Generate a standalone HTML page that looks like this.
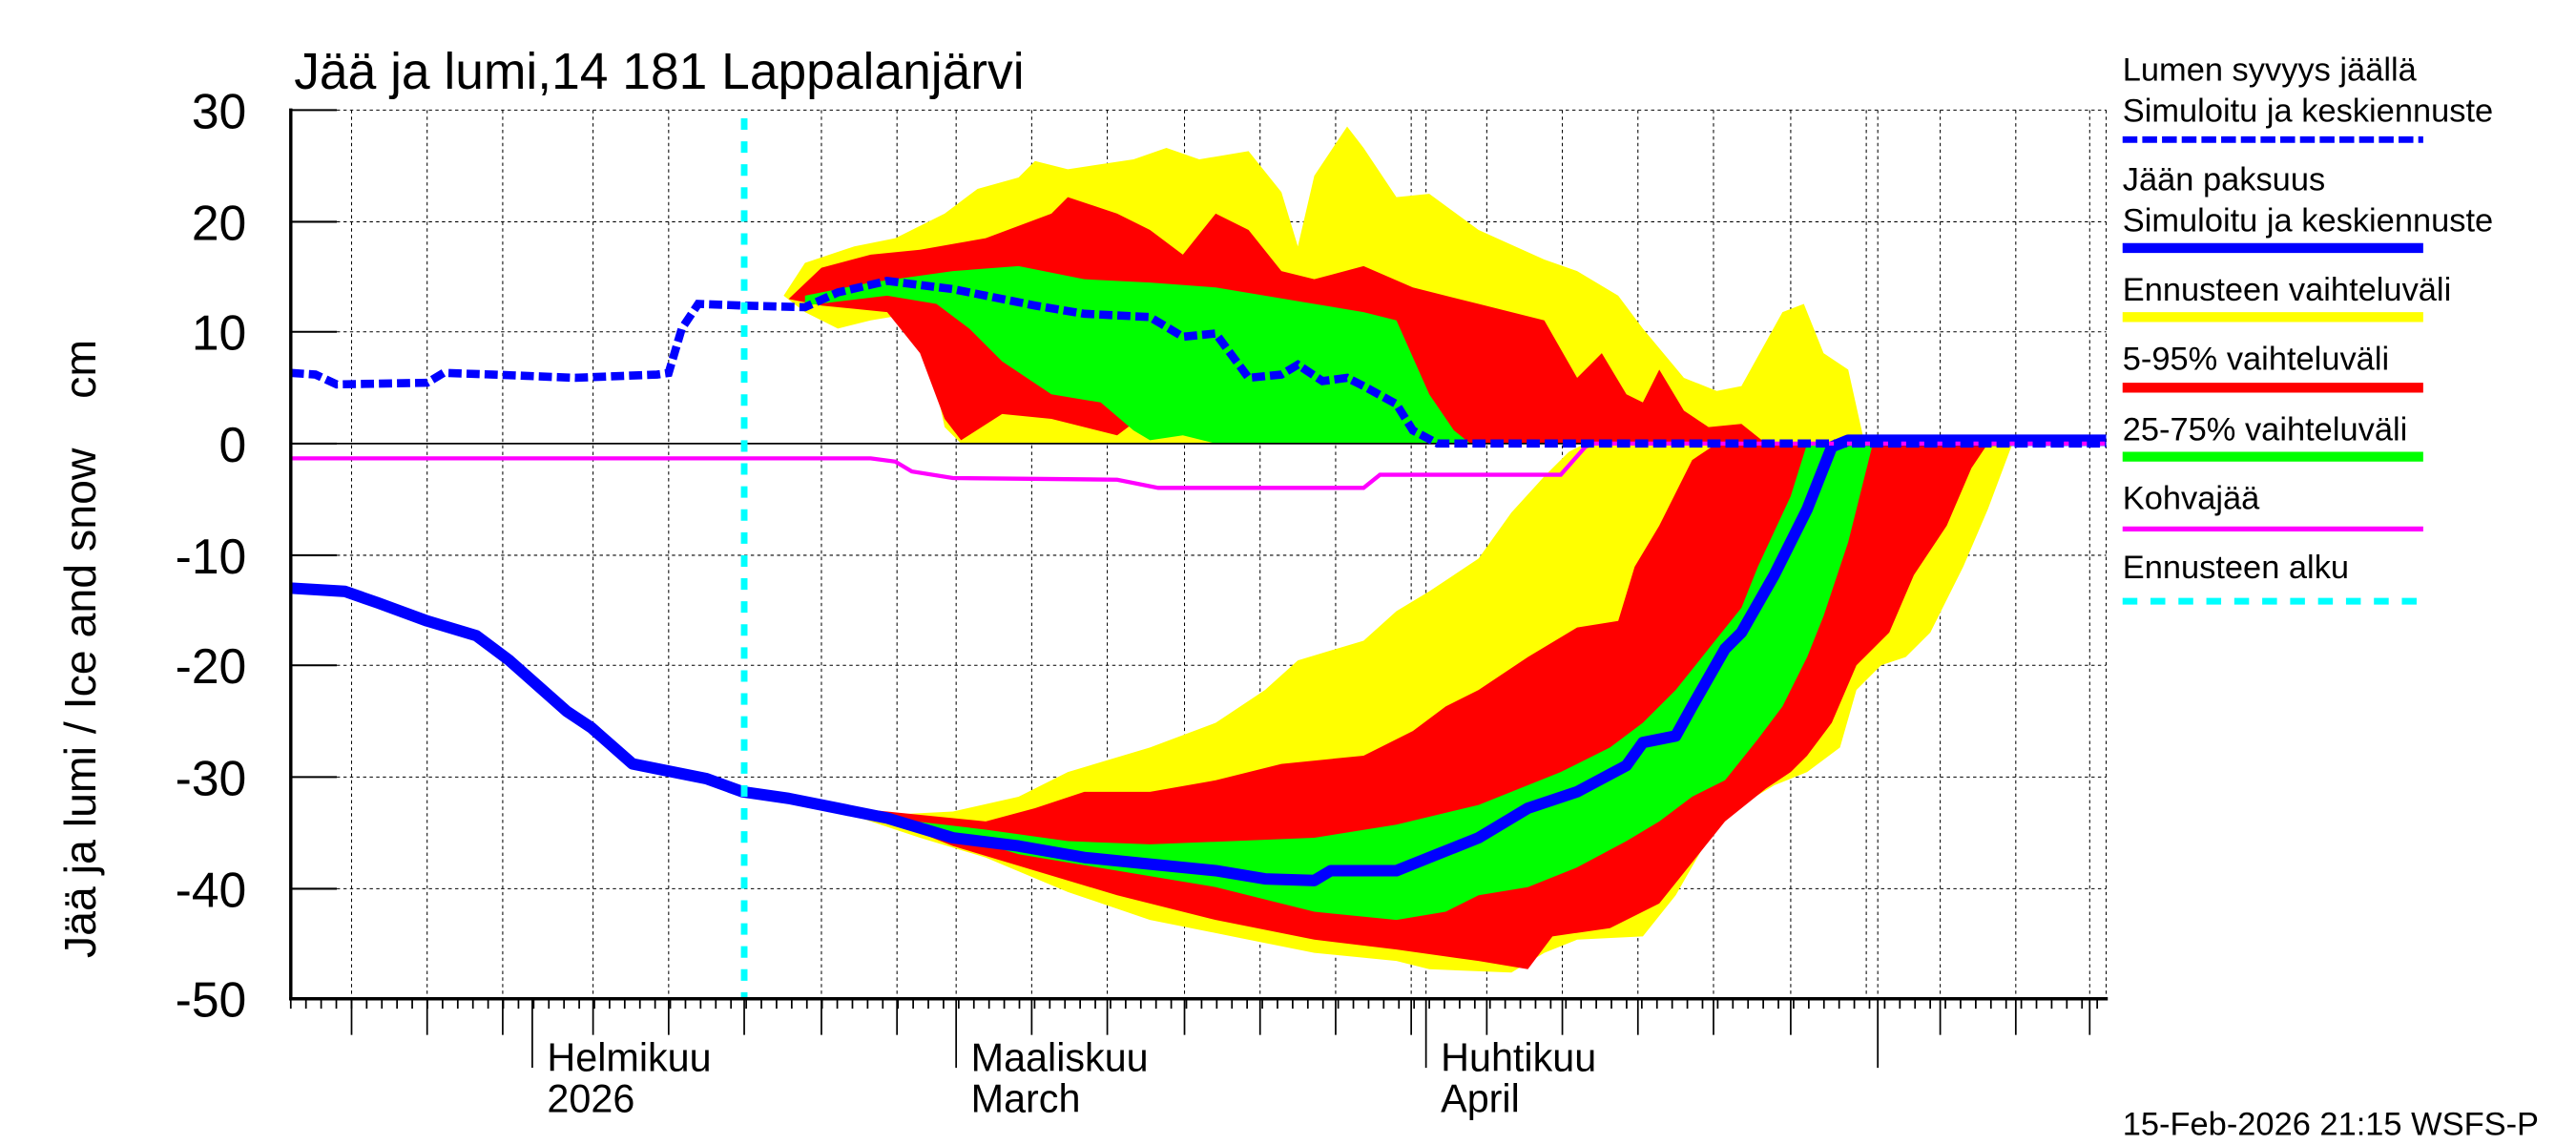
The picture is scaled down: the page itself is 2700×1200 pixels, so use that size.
<!DOCTYPE html>
<html><head><meta charset="utf-8"><style>html,body{margin:0;padding:0;background:#fff}svg{display:block}</style></head><body>
<svg width="2700" height="1200" viewBox="0 0 1568 697" preserveAspectRatio="none" xmlns="http://www.w3.org/2000/svg" font-family="Liberation Sans, sans-serif">
<rect width="1568" height="697" fill="#fff"/>
<g stroke="#000" stroke-width="0.6" stroke-dasharray="2,2">
<line x1="214" y1="67" x2="214" y2="608"/><line x1="260" y1="67" x2="260" y2="608"/><line x1="306" y1="67" x2="306" y2="608"/><line x1="361" y1="67" x2="361" y2="608"/><line x1="407" y1="67" x2="407" y2="608"/><line x1="500" y1="67" x2="500" y2="608"/><line x1="546" y1="67" x2="546" y2="608"/><line x1="582" y1="67" x2="582" y2="608"/><line x1="628" y1="67" x2="628" y2="608"/><line x1="674" y1="67" x2="674" y2="608"/><line x1="721" y1="67" x2="721" y2="608"/><line x1="767" y1="67" x2="767" y2="608"/><line x1="813" y1="67" x2="813" y2="608"/><line x1="859" y1="67" x2="859" y2="608"/><line x1="868" y1="67" x2="868" y2="608"/><line x1="905" y1="67" x2="905" y2="608"/><line x1="951" y1="67" x2="951" y2="608"/><line x1="997" y1="67" x2="997" y2="608"/><line x1="1043" y1="67" x2="1043" y2="608"/><line x1="1090" y1="67" x2="1090" y2="608"/><line x1="1136" y1="67" x2="1136" y2="608"/><line x1="1143" y1="67" x2="1143" y2="608"/><line x1="1181" y1="67" x2="1181" y2="608"/><line x1="1227" y1="67" x2="1227" y2="608"/><line x1="1272" y1="67" x2="1272" y2="608"/>
<line x1="177" y1="67" x2="1282" y2="67"/><line x1="177" y1="135" x2="1282" y2="135"/><line x1="177" y1="202" x2="1282" y2="202"/><line x1="177" y1="338" x2="1282" y2="338"/><line x1="177" y1="405" x2="1282" y2="405"/><line x1="177" y1="473" x2="1282" y2="473"/><line x1="177" y1="541" x2="1282" y2="541"/>
<line x1="1282" y1="67" x2="1282" y2="608"/>
</g>
<polygon fill="#ffff00" points="477,180 490,160 520,150 545,145 575,130 595,115 620,108 630,98 650,103 690,97 710,90 730,97 760,92 780,117 790,150 800,107 820,77 830,90 850,120 870,118 900,140 940,158 960,165 985,180 1000,200 1025,230 1045,238 1060,235 1085,190 1098,185 1110,215 1125,225 1135,270 585,270 575,260 560,190 530,195 510,200 490,190"/>
<polygon fill="#ff0000" points="480,182 500,163 530,155 560,152 600,145 640,130 650,120 680,130 700,140 720,155 740,130 760,140 780,165 800,170 830,162 860,175 900,185 940,195 960,230 975,215 990,240 1000,245 1010,225 1025,250 1040,260 1060,258 1075,270 780,270 750,260 700,250 680,265 640,255 610,252 585,268 575,255 560,215 540,190 500,186"/>
<polygon fill="#00ff00" points="490,180 530,172 580,165 620,162 660,170 700,172 740,175 770,180 800,185 830,190 850,195 870,240 885,262 895,270 740,270 720,265 700,268 690,262 670,245 640,240 610,220 590,200 570,185 540,180 490,186"/>
<polygon fill="#ffff00" points="500,488 540,496 580,494 620,485 650,470 700,455 740,440 770,420 790,402 830,390 850,372 870,360 900,340 920,312 940,290 955,275 965,270 1225,270 1210,310 1195,345 1175,385 1160,400 1145,405 1130,420 1120,455 1100,470 1080,478 1060,490 1040,510 1020,545 1000,570 960,572 940,580 920,592 870,590 850,585 800,580 750,570 700,560 650,543 600,522 560,510 500,490"/>
<polygon fill="#ff0000" points="520,492 560,496 600,500 630,492 660,482 700,482 740,475 780,465 830,460 860,445 880,430 900,420 930,400 960,382 985,378 995,345 1010,320 1030,280 1045,270 1210,270 1200,285 1185,320 1165,350 1150,385 1130,405 1115,440 1100,460 1090,470 1075,480 1050,500 1030,525 1010,550 980,565 945,570 930,590 900,585 850,578 800,572 740,560 680,545 630,530 580,515 530,495"/>
<polygon fill="#00ff00" points="540,498 600,505 650,512 700,514 750,512 800,510 850,502 900,490 950,470 980,455 1000,440 1020,420 1040,395 1060,370 1070,345 1090,302 1100,270 1140,270 1135,290 1125,330 1110,375 1100,400 1085,430 1070,450 1050,475 1030,485 1010,500 990,512 960,528 930,540 900,545 880,555 850,560 800,555 740,540 680,530 620,520 560,502"/>
<line x1="177" y1="270" x2="1282" y2="270" stroke="#000" stroke-width="1"/>
<polyline fill="none" stroke="#0000ff" stroke-width="7" stroke-linejoin="round" points="177,358 210,360 230,367 260,378 290,387 310,402 345,433 360,443 385,465 410,470 430,474 452,482 480,486 510,492 540,498 580,510 620,515 660,522 700,526 740,530 770,535 800,536 810,530 850,530 870,522 900,510 930,492 960,482 990,466 1000,452 1020,448 1030,430 1050,395 1060,385 1080,350 1100,310 1115,272 1125,268 1282,268"/>
<polyline fill="none" stroke="#ff00ff" stroke-width="2.5" points="177,279 530,279 545,281 555,287 580,291 680,292 705,297 830,297 840,289 950,289 965,272 970,270 1282,270"/>
<polyline fill="none" stroke="#0000ff" stroke-width="5" stroke-dasharray="8,3" points="177,227 192,228 205,234 260,233 270,227 300,228 350,230 400,228 407,227 415,200 425,185 452,186 490,187 510,178 540,171 580,176 600,180 630,186 660,191 700,193 720,205 740,203 760,230 780,228 790,222 805,232 820,230 830,235 850,246 860,262 875,270 1282,270"/>
<line x1="453" y1="72" x2="453" y2="608" stroke="#00ffff" stroke-width="4" stroke-dasharray="7,7"/>
<line x1="177" y1="66" x2="177" y2="609" stroke="#000" stroke-width="2"/>
<line x1="176" y1="608" x2="1283" y2="608" stroke="#000" stroke-width="2"/>
<g stroke="#000" stroke-width="1.2">
<line x1="177" y1="67" x2="205" y2="67"/><line x1="177" y1="135" x2="205" y2="135"/><line x1="177" y1="202" x2="205" y2="202"/><line x1="177" y1="270" x2="205" y2="270"/><line x1="177" y1="338" x2="205" y2="338"/><line x1="177" y1="405" x2="205" y2="405"/><line x1="177" y1="473" x2="205" y2="473"/><line x1="177" y1="541" x2="205" y2="541"/>
</g>
<line x1="176.5" y1="611" x2="1283" y2="611" stroke="#000" stroke-width="6" stroke-dasharray="1,8.24"/>
<g stroke="#000" stroke-width="1">
<line x1="214" y1="608" x2="214" y2="630"/><line x1="260" y1="608" x2="260" y2="630"/><line x1="306" y1="608" x2="306" y2="630"/><line x1="361" y1="608" x2="361" y2="630"/><line x1="407" y1="608" x2="407" y2="630"/><line x1="453" y1="608" x2="453" y2="630"/><line x1="500" y1="608" x2="500" y2="630"/><line x1="546" y1="608" x2="546" y2="630"/><line x1="628" y1="608" x2="628" y2="630"/><line x1="674" y1="608" x2="674" y2="630"/><line x1="721" y1="608" x2="721" y2="630"/><line x1="767" y1="608" x2="767" y2="630"/><line x1="813" y1="608" x2="813" y2="630"/><line x1="859" y1="608" x2="859" y2="630"/><line x1="905" y1="608" x2="905" y2="630"/><line x1="951" y1="608" x2="951" y2="630"/><line x1="997" y1="608" x2="997" y2="630"/><line x1="1043" y1="608" x2="1043" y2="630"/><line x1="1090" y1="608" x2="1090" y2="630"/><line x1="1181" y1="608" x2="1181" y2="630"/><line x1="1227" y1="608" x2="1227" y2="630"/><line x1="1272" y1="608" x2="1272" y2="630"/>
<line x1="324" y1="608" x2="324" y2="650"/><line x1="582" y1="608" x2="582" y2="650"/><line x1="868" y1="608" x2="868" y2="650"/><line x1="1143" y1="608" x2="1143" y2="650"/>
</g>
<text x="179" y="54" font-size="31">Jää ja lumi,14 181 Lappalanjärvi</text>
<g font-size="30" text-anchor="end">
<text x="150" y="78">30</text><text x="150" y="146">20</text><text x="150" y="213">10</text><text x="150" y="281">0</text><text x="150" y="349">-10</text><text x="150" y="416">-20</text><text x="150" y="484">-30</text><text x="150" y="552">-40</text><text x="150" y="619">-50</text>
</g>
<text transform="translate(58,395) rotate(-90)" font-size="27" text-anchor="middle" xml:space="preserve">Jää ja lumi / Ice and snow    cm</text>
<g font-size="24">
<text x="333" y="652">Helmikuu</text><text x="333" y="677">2026</text>
<text x="591" y="652">Maaliskuu</text><text x="591" y="677">March</text>
<text x="877" y="652">Huhtikuu</text><text x="877" y="677">April</text>
</g>
<g font-size="20">
<text x="1292" y="49">Lumen syvyys jäällä</text><text x="1292" y="74">Simuloitu ja keskiennuste</text>
<text x="1292" y="116">Jään paksuus</text><text x="1292" y="141">Simuloitu ja keskiennuste</text>
<text x="1292" y="183">Ennusteen vaihteluväli</text>
<text x="1292" y="225">5-95% vaihteluväli</text>
<text x="1292" y="268">25-75% vaihteluväli</text>
<text x="1292" y="310">Kohvajää</text>
<text x="1292" y="352">Ennusteen alku</text>
<text x="1292" y="691">15-Feb-2026 21:15 WSFS-P</text>
</g>
<line x1="1292" y1="85" x2="1475" y2="85" stroke="#0000ff" stroke-width="4" stroke-dasharray="9,3"/>
<line x1="1292" y1="151" x2="1475" y2="151" stroke="#0000ff" stroke-width="6"/>
<line x1="1292" y1="193" x2="1475" y2="193" stroke="#ffff00" stroke-width="6"/>
<line x1="1292" y1="236" x2="1475" y2="236" stroke="#ff0000" stroke-width="6"/>
<line x1="1292" y1="278" x2="1475" y2="278" stroke="#00ff00" stroke-width="6"/>
<line x1="1292" y1="322" x2="1475" y2="322" stroke="#ff00ff" stroke-width="3"/>
<line x1="1292" y1="366" x2="1475" y2="366" stroke="#00ffff" stroke-width="4" stroke-dasharray="9,8"/>
</svg>
</body></html>
